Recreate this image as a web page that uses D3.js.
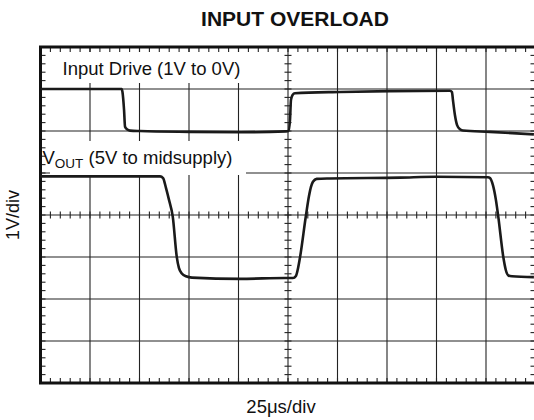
<!DOCTYPE html>
<html>
<head>
<meta charset="utf-8">
<script src="https://cdn.jsdelivr.net/npm/d3@7/dist/d3.min.js"></script>
<style>
  body { margin: 0; background: #fff; }
  text { font-family: "Liberation Sans", Arial, sans-serif; fill: #111; }
</style>
</head>
<body>
<svg id="chart" width="534" height="420"></svg>
<script>
// scope trace, time in us (25us/div), level in divisions from centre (1V/div)
var inputT = [0, 41.0, 41.4, 42.2, 42.7, 43.7, 45.2, 50.3, 75.5, 100.8, 124.0, 125.2,
              126.0, 126.5, 127.3, 128.5, 151.3, 176.5, 206.8, 207.8, 208.3, 209.3,
              210.4, 211.9, 213.4, 227.0, 249.2];
var inputV = [3.0, 3.0, 2.93, 2.5, 2.1, 2.04, 2.01, 2.0, 1.98, 1.97, 1.99, 2.0,
              2.26, 2.74, 2.86, 2.9, 2.93, 2.95, 2.96, 2.93, 2.74, 2.38,
              2.14, 2.04, 2.01, 1.98, 1.92];

var voutT = [0, 60.4, 61.9, 63.4, 64.9, 66.8, 68.8, 69.9, 71.5, 73.5, 76.5, 100.8,
             123.5, 127.5, 129.0, 130.1, 131.1, 134.1, 135.6, 136.6, 137.6, 139.5,
             146.2, 181.6, 199.7, 226.0, 227.0, 228.5, 230.0, 231.2, 233.7, 235.0,
             236.3, 238.1, 249.2];
var voutV = [0.92, 0.92, 0.88, 0.64, 0.36, -0.04, -0.99, -1.26, -1.4, -1.46, -1.49, -1.52,
             -1.5, -1.5, -1.45, -1.26, -1.0, 0.0, 0.45, 0.67, 0.79, 0.86,
             0.87, 0.89, 0.91, 0.9, 0.88, 0.71, 0.36, -0.04, -0.99, -1.31,
             -1.44, -1.46, -1.48];

var titleText = "INPUT OVERLOAD";
var xLabel = "25\u03bcs/div";
var yLabel = "1V/div";

var svg = d3.select("#chart");

var x = d3.scaleLinear().domain([0, 250]).range([40.5, 535.5]);
var y = d3.scaleLinear().domain([-4, 4]).range([383, 47]);

var majorX = d3.range(0, 251, 25),
    majorY = d3.range(-4, 4.001, 1),
    minorX = d3.range(0, 250.001, 5),
    minorY = d3.range(-4, 4.001, 0.2);

var grid = svg.append("g").attr("stroke", "#222").attr("stroke-width", 1.1);

// grid lines
grid.selectAll("line.gx")
    .data(majorX.slice(1, -1))
    .enter().append("line")
    .attr("class", "gx")
    .attr("x1", function (d) { return x(d); })
    .attr("x2", function (d) { return x(d); })
    .attr("y1", y(4))
    .attr("y2", y(-4));

grid.selectAll("line.gy")
    .data(majorY.slice(1, -1))
    .enter().append("line")
    .attr("class", "gy")
    .attr("x1", x(0))
    .attr("x2", x(250))
    .attr("y1", function (d) { return y(d); })
    .attr("y2", function (d) { return y(d); });

// minor ticks: on the frame (pointing in) and on the centre axes (crossing)
var tk = svg.append("g").attr("stroke", "#222").attr("stroke-width", 1.1);

function xTicks(yPos, up, down) {
    tk.append("g").selectAll("line")
        .data(minorX)
        .enter().append("line")
        .attr("x1", function (d) { return x(d); })
        .attr("x2", function (d) { return x(d); })
        .attr("y1", yPos - up)
        .attr("y2", yPos + down);
}
function yTicks(xPos, left, right) {
    tk.append("g").selectAll("line")
        .data(minorY)
        .enter().append("line")
        .attr("y1", function (d) { return y(d); })
        .attr("y2", function (d) { return y(d); })
        .attr("x1", xPos - left)
        .attr("x2", xPos + right);
}
xTicks(y(4), 0, 5);
xTicks(y(-4), 5, 0);
xTicks(y(0), 3.5, 3.5);
yTicks(x(0), 0, 5);
yTicks(x(250), 5, 0);
yTicks(x(125), 3.5, 3.5);

// label boxes hide the grid behind the trace names
svg.append("rect").attr("x", 50).attr("y", 52).attr("width", 198).attr("height", 31).attr("fill", "#fff");
svg.append("rect").attr("x", 50).attr("y", 141).attr("width", 196).attr("height", 34).attr("fill", "#fff");

svg.append("text")
    .attr("x", 62.5).attr("y", 75)
    .attr("font-size", 18.5)
    .text("Input Drive (1V to 0V)");

var vo = svg.append("text")
    .attr("x", 42.5).attr("y", 163.5)
    .attr("font-size", 18.5);
vo.append("tspan").text("V");
vo.append("tspan").attr("font-size", 13.5).attr("dy", 4.5).text("OUT");
vo.append("tspan").attr("dy", -4.5).text(" (5V to midsupply)");

// frame
svg.append("path")
    .attr("d", "M" + x(250) + "," + y(4) + "H" + x(0) + "V" + y(-4) + "H" + x(250))
    .attr("fill", "none")
    .attr("stroke", "#111")
    .attr("stroke-width", 3);
svg.append("line")
    .attr("x1", x(250)).attr("x2", x(250))
    .attr("y1", y(4)).attr("y2", y(-4))
    .attr("stroke", "#111").attr("stroke-width", 3);

// traces
var line = d3.line()
    .x(function (d) { return x(d[0]); })
    .y(function (d) { return y(d[1]); })
    .curve(d3.curveMonotoneX);

svg.append("path")
    .datum(d3.zip(inputT, inputV))
    .attr("d", line)
    .attr("fill", "none")
    .attr("stroke", "#1a1a1a")
    .attr("stroke-width", 2.6)
    .attr("stroke-linejoin", "round");

svg.append("path")
    .datum(d3.zip(voutT, voutV))
    .attr("d", line)
    .attr("fill", "none")
    .attr("stroke", "#1a1a1a")
    .attr("stroke-width", 2.6)
    .attr("stroke-linejoin", "round");

// titles
svg.append("text")
    .attr("x", 295).attr("y", 26)
    .attr("text-anchor", "middle")
    .attr("font-size", 21)
    .attr("font-weight", "bold")
    .text(titleText);

svg.append("text")
    .attr("x", 281).attr("y", 413)
    .attr("text-anchor", "middle")
    .attr("font-size", 18.5)
    .text(xLabel);

svg.append("text")
    .attr("transform", "translate(19,215) rotate(-90)")
    .attr("text-anchor", "middle")
    .attr("font-size", 18)
    .text(yLabel);
</script>
</body>
</html>
